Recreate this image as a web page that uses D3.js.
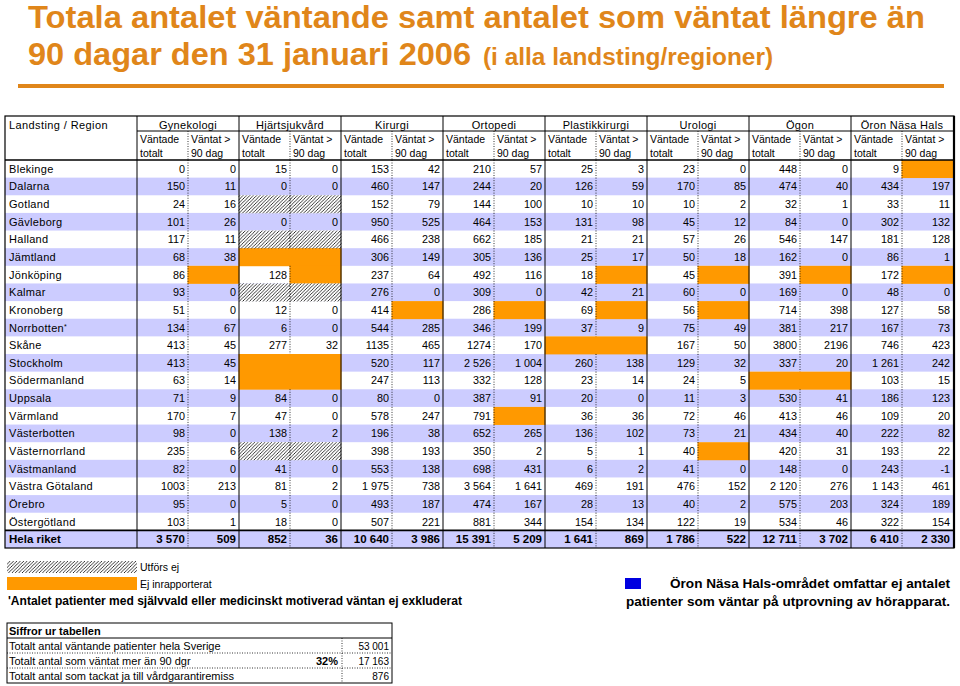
<!DOCTYPE html>
<html>
<head>
<meta charset="utf-8">
<script src="https://cdn.jsdelivr.net/npm/d3@7"></script>
<style>
  body { margin: 0; background: #fff; }
  svg text { font-family: "Liberation Sans", Arial, sans-serif; }
</style>
</head>
<body>
<div id="chart"></div>
<script>
// rows and columns of the table
const regions = ["Blekinge","Dalarna","Gotland","Gävleborg","Halland","Jämtland","Jönköping","Kalmar","Kronoberg","Norrbotten*","Skåne","Stockholm","Södermanland","Uppsala","Värmland","Västerbotten","Västernorrland","Västmanland","Västra Götaland","Örebro","Östergötland"];
const totalLabel = "Hela riket";
const specialties = ["Gynekologi","Hjärtsjukvård","Kirurgi","Ortopedi","Plastikkirurgi","Urologi","Ögon","Öron Näsa Hals"];
const subColumns = ["totalt","90"];
const subHeaders = [["Väntade","totalt"],["Väntat >","90 dag"]];

// "NR" = ej inrapporterat (orange), "UE" = utförs ej (hatched)
const gynTotalt   = ["0","150","24","101","117","68","86","93","51","134","413","413","63","71","170","98","235","82","1003","95","103"];
const gyn90       = ["0","11","16","26","11","38","NR","0","0","67","45","45","14","9","7","0","6","0","213","0","1"];
const hjartTotalt = ["15","0","UE","0","UE","NR","128","UE","12","6","277","NR","NR","84","47","138","UE","41","81","5","18"];
const hjart90     = ["0","0","UE","0","UE","NR","NR","UE","0","0","32","NR","NR","0","0","2","UE","0","2","0","0"];
const kirTotalt   = ["153","460","152","950","466","306","237","276","414","544","1135","520","247","80","578","196","398","553","1 975","493","507"];
const kir90       = ["42","147","79","525","238","149","64","0","NR","285","465","117","113","0","247","38","193","138","738","187","221"];
const ortTotalt   = ["210","244","144","464","662","305","492","309","286","346","1274","2 526","332","387","791","652","350","698","3 564","474","881"];
const ort90       = ["57","20","100","153","185","136","116","0","NR","199","170","1 004","128","91","NR","265","2","431","1 641","167","344"];
const plTotalt    = ["25","126","10","131","21","25","18","42","69","37","NR","260","23","20","36","136","5","6","469","28","154"];
const pl90        = ["3","59","10","98","21","17","NR","21","NR","9","NR","138","14","0","36","102","1","2","191","13","134"];
const uroTotalt   = ["23","170","10","45","57","50","45","60","56","75","167","129","24","11","72","73","40","41","476","40","122"];
const uro90       = ["0","85","2","12","26","18","NR","0","NR","49","50","32","5","3","46","21","NR","0","152","2","19"];
const ogonTotalt  = ["448","474","32","84","546","162","391","169","714","381","3800","337","NR","530","413","434","420","148","2 120","575","534"];
const ogon90      = ["0","40","1","0","147","0","NR","0","398","217","2196","20","NR","41","46","40","31","0","276","203","46"];
const onhTotalt   = ["9","434","33","302","181","86","172","48","127","167","746","1 261","103","186","109","222","193","243","1 143","324","322"];
const onh90       = ["NR","197","11","132","128","1","NR","0","58","73","423","242","15","123","20","82","22","-1","461","189","154"];
const helaRiket   = ["3 570","509","852","36","10 640","3 986","15 391","5 209","1 641","869","1 786","522","12 711","3 702","6 410","2 330"];

const summaryLabels = ["Totalt antal väntande patienter hela Sverige","Totalt antal som väntat mer än 90 dgr","Totalt antal som tackat ja till vårdgarantiremiss"];
const summaryShares = ["","32%",""];
const summaryValues = ["53 001","17 163","876"];

const columnData = [
  [gynTotalt, gyn90], [hjartTotalt, hjart90], [kirTotalt, kir90], [ortTotalt, ort90],
  [plTotalt, pl90], [uroTotalt, uro90], [ogonTotalt, ogon90], [onhTotalt, onh90]
];

const W = 960, H = 686;
const orange = "#ff9900", lavender = "#ccccff", titleColor = "#e0861a";

const svg = d3.select("#chart").append("svg")
  .attr("width", W).attr("height", H);

const defs = svg.append("defs");
defs.append("pattern")
  .attr("id", "hatch")
  .attr("patternUnits", "userSpaceOnUse")
  .attr("width", 3.4).attr("height", 3.4)
  .append("path")
  .attr("d", "M-1,1 l2,-2 M0,3.4 l3.4,-3.4 M2.4,4.4 l2,-2")
  .attr("stroke", "#111").attr("stroke-width", 0.85)
;

// title
const title = svg.append("g").attr("fill", titleColor).attr("font-weight", "bold");
title.append("text")
  .attr("x", 28).attr("y", 28)
  .attr("font-size", 32)
  .attr("textLength", 897).attr("lengthAdjust", "spacingAndGlyphs")
  .text("Totala antalet väntande samt antalet som väntat längre än");
title.append("text")
  .attr("x", 28).attr("y", 65)
  .attr("font-size", 32)
  .attr("textLength", 443).attr("lengthAdjust", "spacingAndGlyphs")
  .text("90 dagar den 31 januari 2006");
title.append("text")
  .attr("x", 483).attr("y", 65)
  .attr("font-size", 23)
  .attr("textLength", 290).attr("lengthAdjust", "spacingAndGlyphs")
  .text("(i alla landsting/regioner)");
svg.append("rect")
  .attr("x", 18).attr("y", 84).attr("width", 926).attr("height", 4)
  .attr("fill", titleColor);

// table scales
const tableLeft = 5, tableRight = 954, tableTop = 116, headSplit = 131, headBottom = 160, tableBottom = 548;
const regionColRight = 137;
const rows = [...regions, totalLabel];
const xSpec = d3.scaleBand().domain(specialties).range([regionColRight, tableRight - 1]);
const xSub = d3.scaleBand().domain(subColumns).range([0, xSpec.bandwidth()]);
const y = d3.scaleBand().domain(rows).range([headBottom, tableBottom]);

const cells = [];
specialties.forEach((s, si) => {
  subColumns.forEach((c, ci) => {
    regions.forEach((r, ri) => {
      cells.push({spec: s, sub: c, row: r, value: columnData[si][ci][ri]});
    });
    cells.push({spec: s, sub: c, row: totalLabel, value: helaRiket[si * 2 + ci], total: true});
  });
});
const cellX = d => xSpec(d.spec) + xSub(d.sub);

const table = svg.append("g").attr("class", "table");
table.append("rect")
  .attr("x", tableLeft).attr("y", tableTop)
  .attr("width", tableRight - tableLeft).attr("height", tableBottom - tableTop)
  .attr("fill", "#fff");

// row bands
table.selectAll(".band")
  .data(rows.filter((r, i) => i % 2 === 1))
  .join("rect")
  .attr("class", "band")
  .attr("x", tableLeft).attr("y", d => y(d))
  .attr("width", tableRight - tableLeft).attr("height", y.bandwidth())
  .attr("fill", lavender);

// not reported / not performed
table.selectAll(".special")
  .data(cells.filter(d => d.value === "NR" || d.value === "UE"))
  .join("rect")
  .attr("class", "special")
  .attr("x", d => cellX(d) - 0.5).attr("y", d => y(d.row))
  .attr("width", xSub.bandwidth() + 1).attr("height", y.bandwidth() + 0.4)
  .attr("fill", d => d.value === "NR" ? orange : "#fff");
table.selectAll(".hatchCell")
  .data(cells.filter(d => d.value === "UE"))
  .join("rect")
  .attr("class", "hatchCell")
  .attr("x", d => cellX(d) - 0.5).attr("y", d => y(d.row))
  .attr("width", xSub.bandwidth() + 1).attr("height", y.bandwidth() + 0.4)
  .attr("fill", "url(#hatch)");

// dotted lines between sub columns, hidden where both cells are orange
const dotSegments = [];
specialties.forEach(s => {
  dotSegments.push({spec: s, y1: headSplit, y2: headBottom});
  rows.forEach(r => {
    const bothNR = cells.filter(d => d.spec === s && d.row === r && d.value === "NR").length === 2;
    if (!bothNR) dotSegments.push({spec: s, y1: y(r), y2: y(r) + y.bandwidth()});
  });
});
table.selectAll(".subLine")
  .data(dotSegments)
  .join("line")
  .attr("class", "subLine")
  .attr("x1", d => xSpec(d.spec) + xSub.bandwidth()).attr("x2", d => xSpec(d.spec) + xSub.bandwidth())
  .attr("y1", d => d.y1).attr("y2", d => d.y2)
  .attr("stroke", "#000").attr("stroke-width", 0.8).attr("stroke-dasharray", "1,1.5");

// solid lines
const solid = table.append("g").attr("stroke", "#000");
solid.selectAll(".specLine")
  .data([regionColRight, ...specialties.map(s => xSpec(s)).slice(1)])
  .join("line")
  .attr("x1", d => d).attr("x2", d => d)
  .attr("y1", tableTop).attr("y2", tableBottom)
  .attr("stroke-width", 1);
solid.append("line")
  .attr("x1", regionColRight).attr("x2", tableRight)
  .attr("y1", headSplit).attr("y2", headSplit).attr("stroke-width", 1);
solid.append("line")
  .attr("x1", tableLeft).attr("x2", tableRight)
  .attr("y1", headBottom).attr("y2", headBottom).attr("stroke-width", 1.6);
solid.append("line")
  .attr("x1", tableLeft).attr("x2", tableRight)
  .attr("y1", y(totalLabel)).attr("y2", y(totalLabel)).attr("stroke-width", 1.6);
solid.append("rect")
  .attr("x", tableLeft).attr("y", tableTop)
  .attr("width", tableRight - tableLeft).attr("height", tableBottom - tableTop)
  .attr("fill", "none").attr("stroke-width", 1.2);
solid.append("line")
  .attr("x1", tableRight).attr("x2", tableRight)
  .attr("y1", tableTop).attr("y2", tableBottom).attr("stroke-width", 2.2);

// header texts
const head = table.append("g").attr("font-size", 10.5).attr("fill", "#000");
head.append("text").attr("x", 9).attr("y", 129).attr("font-size", 11).attr("letter-spacing", 0.4).text("Landsting / Region");
head.selectAll(".specName")
  .data(specialties)
  .join("text")
  .attr("class", "specName")
  .attr("x", d => xSpec(d) + xSpec.bandwidth() / 2).attr("y", 129)
  .attr("text-anchor", "middle")
  .attr("font-size", 11).attr("letter-spacing", 0.3)
  .text(d => d);
specialties.forEach(s => {
  subColumns.forEach((c, ci) => {
    subHeaders[ci].forEach((t, li) => {
      head.append("text")
        .attr("x", xSpec(s) + xSub(c) + 3).attr("y", 143 + li * 14)
        .text(t);
    });
  });
});

// region labels
const labels = table.selectAll(".rowLabel")
  .data(rows)
  .join("text")
  .attr("class", "rowLabel")
  .attr("x", 9).attr("y", d => y(d) + y.bandwidth() / 2 + 4)
  .attr("font-size", d => d === totalLabel ? 11.5 : 11)
  .attr("letter-spacing", d => d === totalLabel ? 0 : 0.3)
  .attr("font-weight", d => d === totalLabel ? "bold" : "normal")
  .text(d => d.replace("*", ""));
labels.filter(d => d.endsWith("*"))
  .append("tspan").attr("font-size", 7).attr("dy", -3).text("*");

// numbers
table.selectAll(".val")
  .data(cells.filter(d => d.value !== "NR" && d.value !== "UE"))
  .join("text")
  .attr("class", "val")
  .attr("x", d => cellX(d) + xSub.bandwidth() - 3)
  .attr("y", d => y(d.row) + y.bandwidth() / 2 + 4)
  .attr("text-anchor", "end")
  .attr("font-size", d => d.total ? 11.5 : 10.8)
  .attr("font-weight", d => d.total ? "bold" : "normal")
  .text(d => d.value);

// legend
const legend = svg.append("g").attr("font-size", 10.5);
legend.append("rect").attr("x", 7).attr("y", 561).attr("width", 130).attr("height", 12).attr("fill", "url(#hatch)");
legend.append("text").attr("x", 140).attr("y", 571).text("Utförs ej");
legend.append("rect").attr("x", 7).attr("y", 577).attr("width", 130).attr("height", 13).attr("fill", orange);
legend.append("text").attr("x", 140).attr("y", 588).text("Ej inrapporterat");
legend.append("text")
  .attr("x", 8).attr("y", 605)
  .attr("font-size", 12).attr("font-weight", "bold")
  .attr("textLength", 454).attr("lengthAdjust", "spacingAndGlyphs")
  .text("'Antalet patienter med självvald eller medicinskt motiverad väntan ej exkluderat");

// summary table
const sumTop = 623, sumRowH = 15, sumLeft = 7, sumRight = 392, sumSplit = 342;
const sumY = d3.scaleBand().domain(d3.range(summaryLabels.length + 1)).range([sumTop, sumTop + sumRowH * 4]);
const summary = svg.append("g").attr("font-size", 11);
summary.append("rect")
  .attr("x", sumLeft).attr("y", sumTop).attr("width", sumRight - sumLeft).attr("height", sumRowH * 4)
  .attr("fill", "#fff").attr("stroke", "#000").attr("stroke-width", 1);
summary.append("line")
  .attr("x1", sumLeft).attr("x2", sumRight).attr("y1", sumY(1)).attr("y2", sumY(1))
  .attr("stroke", "#000");
summary.selectAll(".sumDot")
  .data([2, 3])
  .join("line")
  .attr("x1", sumLeft).attr("x2", sumRight).attr("y1", d => sumY(d)).attr("y2", d => sumY(d))
  .attr("stroke", "#000").attr("stroke-width", 0.8).attr("stroke-dasharray", "1,1.5");
summary.append("line")
  .attr("x1", sumSplit).attr("x2", sumSplit).attr("y1", sumY(1)).attr("y2", sumTop + sumRowH * 4)
  .attr("stroke", "#000").attr("stroke-width", 0.8).attr("stroke-dasharray", "1,1.5");
summary.append("text").attr("x", 9).attr("y", sumY(0) + 11.5).attr("font-weight", "bold").text("Siffror ur tabellen");
summaryLabels.forEach((l, i) => {
  const yy = sumY(i + 1) + 11.5;
  summary.append("text").attr("x", 9).attr("y", yy).text(l);
  summary.append("text").attr("x", 338).attr("y", yy).attr("text-anchor", "end").attr("font-weight", "bold").text(summaryShares[i]);
  summary.append("text").attr("x", 389).attr("y", yy).attr("text-anchor", "end").attr("font-size", 10).text(summaryValues[i]);
});

// note about ÖNH
const note = svg.append("g").attr("font-size", 13).attr("font-weight", "bold");
note.append("rect").attr("x", 625).attr("y", 578).attr("width", 16).attr("height", 11).attr("fill", "#0000e0");
note.append("text")
  .attr("x", 950).attr("y", 588).attr("text-anchor", "end")
  .attr("textLength", 280).attr("lengthAdjust", "spacingAndGlyphs")
  .text("Öron Näsa Hals-området omfattar ej antalet");
note.append("text")
  .attr("x", 626).attr("y", 606)
  .attr("textLength", 324).attr("lengthAdjust", "spacingAndGlyphs")
  .text("patienter som väntar på utprovning av hörapparat.");
</script>
</body>
</html>
